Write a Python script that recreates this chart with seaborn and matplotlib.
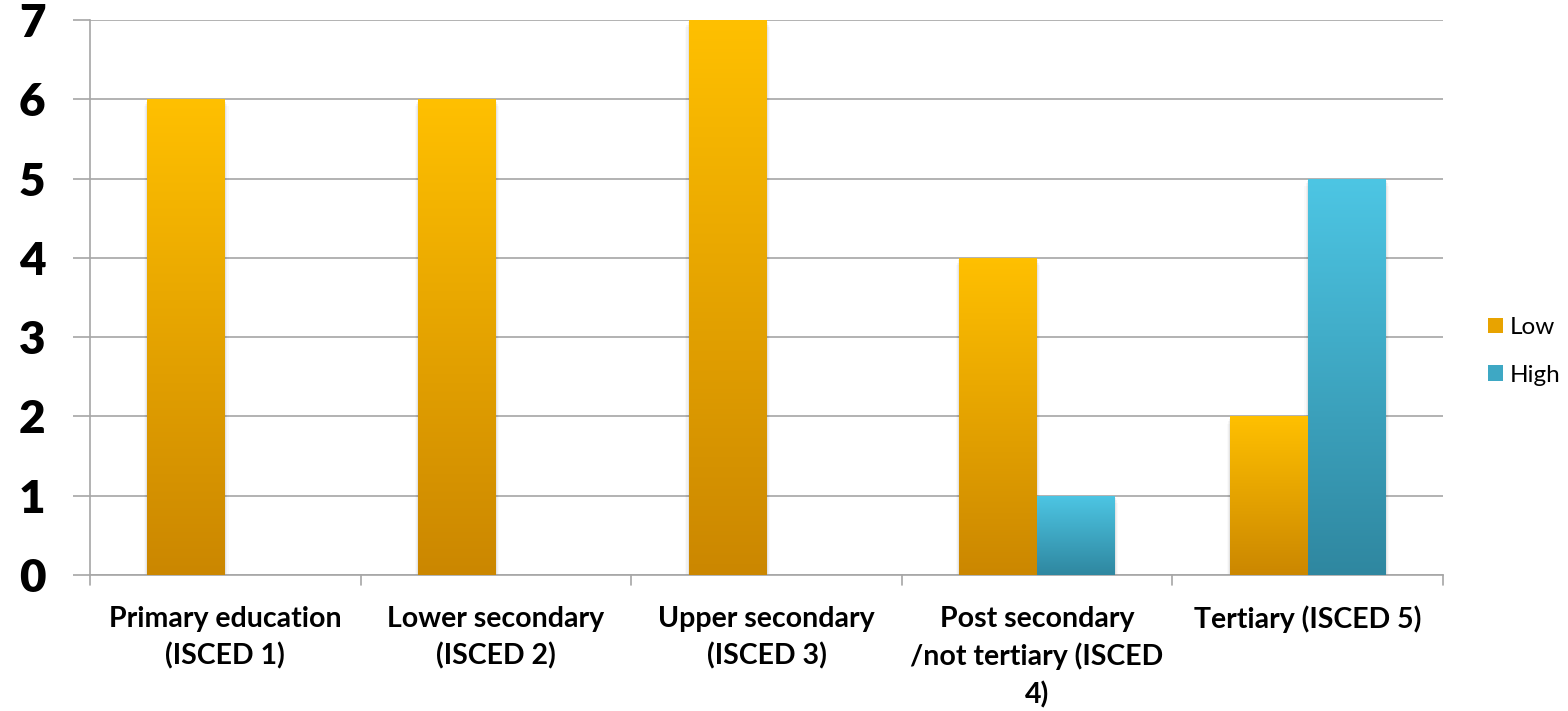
import numpy as np
import pandas as pd
import matplotlib
matplotlib.use("Agg")
import matplotlib.pyplot as plt
import seaborn as sns
from matplotlib.colors import LinearSegmentedColormap
from matplotlib.patches import Patch

# data
categories = [
    "Primary education\n(ISCED 1)",
    "Lower secondary\n(ISCED 2)",
    "Upper secondary\n(ISCED 3)",
    "Post secondary\n/not tertiary (ISCED\n4)",
    "Tertiary (ISCED 5)",
]
low_values = [6, 6, 7, 4, 2]
high_values = [0, 0, 0, 1, 5]
series = ["Low", "High"]

# gradient colours (top, bottom)
grad = {
    "Low": ("#FFC000", "#CB8700"),
    "High": ("#4DC6E4", "#2F87A0"),
}
mid = {"Low": "#E8A300", "High": "#3EA8C4"}

df = pd.DataFrame({
    "category": categories * 2,
    "series": ["Low"] * len(categories) + ["High"] * len(categories),
    "value": low_values + high_values,
})

sns.set_style("white")
plt.rcParams["font.family"] = ["Lato", "DejaVu Sans"]
plt.rcParams["text.color"] = "black"
plt.rcParams["xtick.color"] = "black"
plt.rcParams["ytick.color"] = "black"

fig = plt.figure(figsize=(15.68, 7.11), dpi=100)
ax = fig.add_axes([0.0574, 0.1913, 0.8629, 0.7806])

sns.barplot(data=df, x="category", y="value", hue="series", hue_order=series,
            palette=mid, width=0.576, dodge=True, ax=ax, legend=False,
            edgecolor="none", linewidth=0, errorbar=None, zorder=3)

ax.set_xlim(-0.5, len(categories) - 0.5)
ax.set_ylim(0, 7)

# paint a vertical gradient inside each bar
for i, patch in enumerate(ax.patches):
    h = patch.get_height()
    if h <= 0:
        continue
    name = series[i // len(categories)]
    top, bottom = grad[name]
    cmap = LinearSegmentedColormap.from_list(name, [bottom, top])
    x0 = patch.get_x()
    w = patch.get_width()
    # soft shadow on the sides
    for k, a in enumerate([0.05, 0.035, 0.02]):
        off = 0.004 * (k + 1)
        ax.add_patch(plt.Rectangle((x0 - off, -0.03 * (k + 1)), w + 2 * off, h,
                                   facecolor="black", alpha=a, edgecolor="none", zorder=2))
    img = np.linspace(0, 1, 256).reshape(-1, 1)
    im = ax.imshow(img, cmap=cmap, origin="lower", aspect="auto",
                   extent=(x0, x0 + w, 0, h), zorder=3.5)
    im.set_clip_path(patch)

ax.set_xlim(-0.5, len(categories) - 0.5)
ax.set_ylim(0, 7)

ax.set_yticks(range(0, 8))
ax.yaxis.grid(True, color="#A6A6A6", linewidth=1.2, zorder=0)
ax.set_axisbelow(True)
for s in ["top", "right"]:
    ax.spines[s].set_visible(False)
ax.spines["left"].set_color("#A6A6A6")
ax.spines["left"].set_linewidth(1.2)
ax.spines["bottom"].set_color("#A6A6A6")
ax.spines["bottom"].set_linewidth(1.2)

ax.tick_params(axis="y", length=12, width=1.2, color="#A6A6A6", pad=20,
               labelsize=33, left=True, labelcolor="black")
for t in ax.get_yticklabels():
    t.set_fontweight("heavy")

# category boundary ticks on x axis
ax.set_xticks(np.arange(len(categories)))
ax.set_xticklabels(categories, fontsize=20.5, fontweight="bold", linespacing=1.5)
ax.tick_params(axis="x", length=0, pad=22, labelcolor="black")
for b in np.arange(-0.5, len(categories)):
    ax.plot([b, b], [0, -0.12], color="#A6A6A6", linewidth=1.2, clip_on=False)
ax.set_xlabel("")
ax.set_ylabel("")

handles = [Patch(facecolor=mid[s], edgecolor="none", label=s) for s in series]
fig.legend(handles=handles, loc="center left", bbox_to_anchor=(0.949, 0.506),
           frameon=False, fontsize=17.5, handlelength=0.6, handleheight=0.6,
           handletextpad=0.3, labelspacing=1.1, borderpad=0, borderaxespad=0)

fig.savefig("out.png", dpi=100)
